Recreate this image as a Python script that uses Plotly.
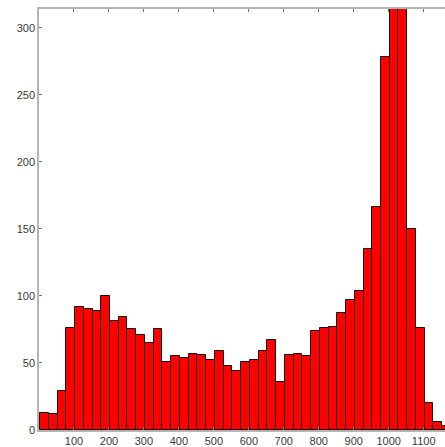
import plotly.graph_objects as go

bin_centers = [15.5, 40.5, 65.5, 90.5, 115.5, 140.5, 165.5, 190.5, 215.5, 240.5,
               265.5, 290.5, 315.5, 340.5, 365.5, 390.5, 415.5, 440.5, 465.5, 490.5,
               515.5, 540.5, 565.5, 590.5, 615.5, 640.5, 665.5, 690.5, 715.5, 740.5,
               765.5, 790.5, 815.5, 840.5, 865.5, 890.5, 915.5, 940.5, 965.5, 990.5,
               1015.5, 1040.5, 1065.5, 1090.5, 1115.5, 1140.5, 1165.5]
counts = [13, 12, 29, 76, 92, 90, 89, 100, 81, 84,
          75, 71, 65, 75, 51, 55, 54, 57, 56, 52,
          59, 48, 44, 51, 52, 59, 67, 36, 56, 57,
          55, 74, 76, 77, 87, 97, 104, 135, 166, 278,
          340, 330, 150, 76, 20, 6, 3]
bin_width = 25
x_ticks = [100, 200, 300, 400, 500, 600, 700, 800, 900, 1000, 1100]
y_ticks = [0, 50, 100, 150, 200, 250, 300]

fig = go.Figure(go.Bar(
    x=bin_centers, y=counts, width=bin_width,
    marker=dict(color="#ff0000", line=dict(color="#1a0000", width=1)),
))

font = dict(family="Liberation Sans, Arial, sans-serif", size=11, color="#3a3a3a")
fig.update_layout(
    width=445, height=447,
    margin=dict(l=39, r=0, t=9, b=15),
    paper_bgcolor="white", plot_bgcolor="white",
    showlegend=False, bargap=0,
    font=font,
)
fig.update_xaxes(
    range=[0, 1161], tickvals=x_ticks, ticktext=[str(v) for v in x_ticks],
    showline=True, linecolor="#b5b5b5", linewidth=1.5, mirror="ticks",
    ticks="inside", ticklen=3, tickcolor="#777", showgrid=False, zeroline=False,
    tickfont=font,
)
fig.update_yaxes(
    range=[0, 314], tickvals=y_ticks, ticktext=[str(v) for v in y_ticks],
    showline=True, linecolor="#b5b5b5", linewidth=1.5,
    ticks="inside", ticklen=3, tickcolor="#777", showgrid=False, zeroline=False,
    tickfont=font,
)
fig.write_html("out.html")
